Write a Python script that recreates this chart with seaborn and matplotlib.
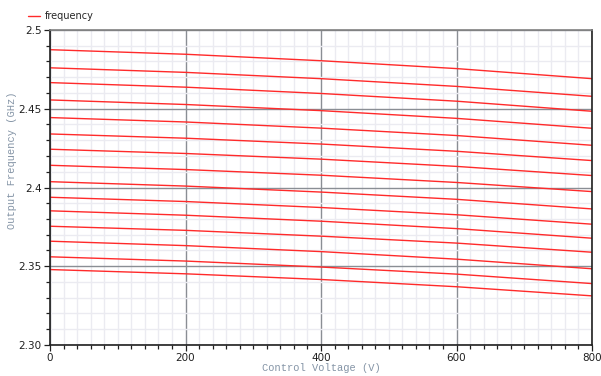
import matplotlib
matplotlib.use("Agg")
import matplotlib.pyplot as plt
from matplotlib.lines import Line2D
from matplotlib.ticker import MultipleLocator, FixedLocator, FixedFormatter
import numpy as np
import pandas as pd
import seaborn as sns

# Control voltage sample points (V)
voltage = [0, 200, 400, 600, 800]

# Output frequency (GHz) for each tuning curve, top to bottom
curve_01 = [2.4875, 2.4846, 2.4805, 2.4755, 2.4691]
curve_02 = [2.4760, 2.4731, 2.4691, 2.4642, 2.4579]
curve_03 = [2.4666, 2.4637, 2.4597, 2.4548, 2.4484]
curve_04 = [2.4556, 2.4527, 2.4488, 2.4439, 2.4376]
curve_05 = [2.4444, 2.4416, 2.4377, 2.4330, 2.4268]
curve_06 = [2.4340, 2.4313, 2.4276, 2.4230, 2.4171]
curve_07 = [2.4243, 2.4216, 2.4180, 2.4134, 2.4076]
curve_08 = [2.4141, 2.4114, 2.4078, 2.4032, 2.3974]
curve_09 = [2.4037, 2.4009, 2.3971, 2.3925, 2.3864]
curve_10 = [2.3938, 2.3911, 2.3873, 2.3827, 2.3767]
curve_11 = [2.3852, 2.3824, 2.3786, 2.3739, 2.3678]
curve_12 = [2.3754, 2.3728, 2.3691, 2.3647, 2.3589]
curve_13 = [2.3659, 2.3631, 2.3593, 2.3545, 2.3484]
curve_14 = [2.3560, 2.3533, 2.3495, 2.3450, 2.3390]
curve_15 = [2.3479, 2.3452, 2.3416, 2.3370, 2.3312]

curves = [curve_01, curve_02, curve_03, curve_04, curve_05, curve_06, curve_07,
          curve_08, curve_09, curve_10, curve_11, curve_12, curve_13, curve_14,
          curve_15]

y_ticks = [2.30, 2.35, 2.40, 2.45, 2.50]
y_tick_labels = ["2.30", "2.35", "2.4", "2.45", "2.5"]
x_ticks = [0, 200, 400, 600, 800]
x_tick_labels = ["0", "200", "400", "600", "800"]

rows = []
for i, c in enumerate(curves):
    for v, f in zip(voltage, c):
        rows.append({"voltage": v, "frequency": f, "curve": i})
df = pd.DataFrame(rows)

sns.set_style("white")
fig = plt.figure(figsize=(6.01, 3.76), dpi=100)
ax = fig.add_axes([50 / 601, 1 - 345 / 376, 542 / 601, 315 / 376])

line_color = "#ff2a2a"
sns.lineplot(data=df, x="voltage", y="frequency", units="curve",
             estimator=None, color=line_color, linewidth=1.0, ax=ax,
             legend=False, sort=True)

ax.set_xlim(0, 800)
ax.set_ylim(2.30, 2.50)

# grid: light minor lines, darker major lines
ax.xaxis.set_major_locator(FixedLocator(x_ticks))
ax.xaxis.set_major_formatter(FixedFormatter(x_tick_labels))
ax.xaxis.set_minor_locator(MultipleLocator(20))
ax.yaxis.set_major_locator(FixedLocator(y_ticks))
ax.yaxis.set_major_formatter(FixedFormatter(y_tick_labels))
ax.yaxis.set_minor_locator(MultipleLocator(0.01))

ax.grid(which="minor", color="#ebebf1", linewidth=1.0)
ax.grid(which="major", color="#8a8e94", linewidth=1.0)
ax.set_axisbelow(True)

ax.tick_params(which="both", direction="out", color="#202020", width=0.9,
               labelsize=7.5, labelcolor="#202020", pad=2)
ax.tick_params(which="major", length=4)
ax.tick_params(which="minor", length=3)
ax.tick_params(axis="both", which="both", left=True, bottom=True)

for side in ["left", "bottom", "right"]:
    ax.spines[side].set_color("#202020")
    ax.spines[side].set_linewidth(1.2)
ax.spines["top"].set_color("#808080")
ax.spines["top"].set_linewidth(1.2)

label_font = {"family": "Liberation Mono", "size": 7.5, "color": "#8494a6"}
ax.set_xlabel("Control Voltage (V)", fontdict=label_font)
ax.set_ylabel("Output Frequency (GHz)", fontdict=label_font)
ax.xaxis.set_label_coords(0.5, -0.058)
ax.yaxis.set_label_coords(-0.061, 0.587)

handle = Line2D([0], [0], color=line_color, linewidth=1.0)
fig.legend([handle], ["frequency"], loc="upper left",
           bbox_to_anchor=(0.035, 0.988), frameon=False, fontsize=7,
           handlelength=1.2, handletextpad=0.6, borderaxespad=0.3)

fig.savefig("out.png", dpi=100)
